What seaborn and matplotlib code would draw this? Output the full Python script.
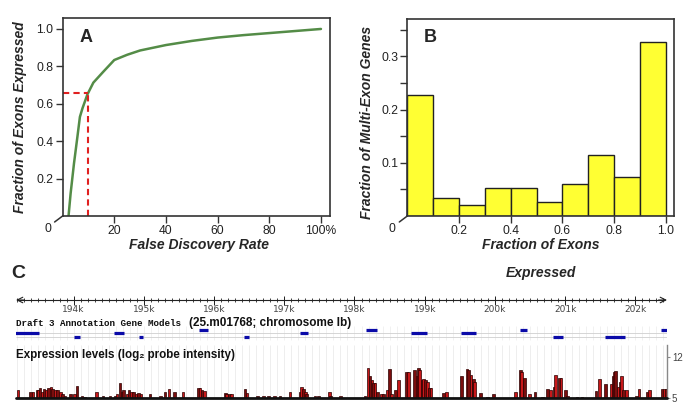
import numpy as np
import matplotlib
matplotlib.use("Agg")
import matplotlib.pyplot as plt
import seaborn as sns

# ---------------- data ----------------
# Panel A: cumulative fraction of exons expressed vs FDR (%)
fdr = [2.3, 3.1, 4.4, 5.7, 6.7, 7.7, 9.6, 11.9, 15.8, 20, 25, 30, 40, 50, 60, 70, 80, 90, 100]
frac_expressed = [0.0, 0.12, 0.28, 0.42, 0.53, 0.576, 0.65, 0.713, 0.772, 0.834, 0.862,
                  0.885, 0.914, 0.936, 0.954, 0.967, 0.978, 0.989, 1.0]
fdr_cut = 10
frac_cut = 0.655
a_xticks = [20, 40, 60, 80, 100]
a_xticklabels = ["20", "40", "60", "80", "100%"]
a_yticks = [0.2, 0.4, 0.6, 0.8, 1.0]
a_yticklabels = ["0.2", "0.4", "0.6", "0.8", "1.0"]

# Panel B: histogram of fraction of exons expressed per multi-exon gene
bin_edges = [0.0, 0.1, 0.2, 0.3, 0.4, 0.5, 0.6, 0.7, 0.8, 0.9, 1.0]
bin_fraction = [0.227, 0.034, 0.020, 0.053, 0.053, 0.027, 0.060, 0.114, 0.074, 0.327]
b_xticks = [0.2, 0.4, 0.6, 0.8, 1.0]
b_xticklabels = ["0.2", "0.4", "0.6", "0.8", "1.0"]
b_yticks = [0.1, 0.2, 0.3]
b_yticklabels = ["0.1", "0.2", "0.3"]
b_yminor = [0.05, 0.15, 0.25, 0.35]

# Panel C: genome browser view (positions in kb)
ruler_labels = [194, 195, 196, 197, 198, 199, 200, 201, 202]
gene_start = [195.78, 198.17, 200.36, 202.36,
              193.17, 194.57, 197.22, 198.81, 199.51,
              194.01, 194.93, 196.42, 200.82, 201.57]
gene_end = [195.92, 198.32, 200.46, 202.46,
            193.51, 194.72, 197.34, 199.03, 199.73,
            194.09, 194.99, 196.50, 200.97, 201.85]
gene_row = [1, 1, 1, 1, 2, 2, 2, 2, 2, 3, 3, 3, 3, 3]

probe_pos = [193.21, 193.39, 193.42, 193.48, 193.50, 193.52, 193.56, 193.58, 193.61, 193.64,
             193.68, 193.70, 193.74, 193.77, 193.81, 193.84, 193.88, 193.96, 194.01, 194.05,
             194.12, 194.16, 194.33, 194.42, 194.52, 194.59, 194.62, 194.66, 194.69, 194.71,
             194.76, 194.79, 194.82, 194.85, 194.89, 194.92, 194.96, 195.09, 195.24, 195.30,
             195.36, 195.44, 195.56, 195.78, 195.80, 195.83, 195.86, 196.16, 196.18, 196.22,
             196.25, 196.44, 196.47, 196.62, 196.70, 196.78, 196.86, 196.94, 197.08, 197.23,
             197.25, 197.27, 197.30, 197.32, 197.44, 197.49, 197.64, 197.66, 197.80, 198.15,
             198.19, 198.22, 198.25, 198.27, 198.29, 198.33, 198.38, 198.41, 198.47, 198.50,
             198.53, 198.58, 198.63, 198.74, 198.77, 198.85, 198.89, 198.91, 198.93, 198.96,
             198.98, 199.01, 199.04, 199.07, 199.09, 199.27, 199.31, 199.52, 199.60, 199.62,
             199.66, 199.69, 199.71, 199.79, 199.89, 199.98, 200.29, 200.36, 200.38, 200.42,
             200.49, 200.57, 200.68, 200.75, 200.79, 200.84, 200.86, 200.92, 200.94, 201.00,
             201.03, 201.17, 201.24, 201.44, 201.49, 201.57, 201.66, 201.68, 201.70, 201.72,
             201.76, 201.78, 201.80, 201.83, 201.87, 202.02, 202.05, 202.17, 202.20, 202.38,
             202.41, 202.44]
probe_log2 = [6.4, 6.0, 6.1, 6.3, 6.4, 6.7, 6.1, 6.5, 6.3, 6.7,
              6.8, 6.6, 6.4, 6.4, 6.1, 5.7, 5.4, 5.6, 5.6, 7.0,
              5.4, 5.2, 6.1, 5.4, 5.3, 5.4, 5.7, 7.6, 6.1, 6.4,
              5.7, 6.4, 6.1, 6.1, 5.7, 5.8, 5.7, 5.7, 5.4, 6.1,
              6.5, 6.0, 6.1, 6.7, 6.7, 6.4, 6.2, 5.8, 5.7, 5.7,
              5.7, 6.5, 5.8, 5.3, 5.3, 5.3, 5.3, 5.4, 6.0, 6.1,
              6.8, 6.6, 6.0, 5.7, 5.3, 5.3, 6.1, 5.4, 5.4, 5.4,
              10.1, 8.75, 8.1, 7.5, 7.5, 6.0, 5.7, 5.7, 6.3, 9.9,
              5.7, 6.4, 8.0, 9.5, 9.5, 9.8, 8.8, 10.2, 9.8, 8.1,
              8.2, 8.1, 7.8, 6.7, 6.7, 5.8, 6.0, 8.75, 10.0, 9.8,
              8.9, 8.2, 7.8, 5.8, 5.2, 5.7, 6.0, 9.8, 9.5, 8.5,
              5.7, 6.0, 5.2, 6.6, 6.4, 6.8, 8.9, 8.4, 8.4, 6.3,
              5.4, 5.2, 5.2, 6.2, 8.2, 7.4, 7.4, 8.8, 9.5, 9.6,
              6.8, 7.8, 8.75, 6.4, 6.4, 5.4, 6.6, 6.0, 6.3, 6.6,
              6.6, 6.5]
expr_ticks = [5, 12]

# ---------------- style ----------------
sns.set_style("white")
SANS = ["Liberation Sans", "DejaVu Sans"]
plt.rcParams["font.family"] = SANS

W, H = 685, 415
fig = plt.figure(figsize=(W / 100, H / 100), dpi=100)


def px_axes(x0, y0, x1, y1):
    return fig.add_axes([x0 / W, 1 - y1 / H, (x1 - x0) / W, (y1 - y0) / H])


def ftext(x, y, s, **kw):
    fig.text(x / W, 1 - y / H, s, **kw)


SPINE = "#333333"
TICKFS = 8.7


def style_box(ax):
    for sp in ax.spines.values():
        sp.set_visible(True)
        sp.set_color(SPINE)
        sp.set_linewidth(1.2)
    ax.tick_params(axis="both", which="both", direction="out", length=5, width=1.0,
                   color=SPINE, labelsize=TICKFS, labelcolor="#222222", pad=1.5,
                   bottom=True, left=True)
    ax.annotate("", xy=(0, 0), xycoords="axes fraction", xytext=(-8, -6),
                textcoords="offset pixels", annotation_clip=False,
                arrowprops=dict(arrowstyle="-", color=SPINE, lw=1.1, shrinkA=0, shrinkB=0))
    ax.annotate("0", xy=(0, 0), xycoords="axes fraction", xytext=(-15, -13),
                textcoords="offset pixels", ha="center", va="center",
                fontsize=TICKFS, color="#222222", annotation_clip=False)


# ---------------- Panel A ----------------
axA = px_axes(62.6, 18.3, 330, 216)
sns.lineplot(x=fdr, y=frac_expressed, color="#548c47", lw=1.8, ax=axA)
axA.hlines(frac_cut, 0, fdr_cut, colors="#e02020", linestyles=(0, (3, 2)), lw=1.5)
axA.vlines(fdr_cut, 0, frac_cut, colors="#e02020", linestyles=(0, (3, 2)), lw=1.5)
axA.set_xlim(0, 103.5)
axA.set_ylim(0, 1.057)
axA.set_xticks(a_xticks)
axA.set_xticklabels(a_xticklabels)
axA.set_yticks(a_yticks)
axA.set_yticklabels(a_yticklabels)
axA.set_xlabel("")
axA.set_ylabel("")
style_box(axA)
ftext(86, 38, "A", fontsize=13, fontweight="bold", ha="center", va="center")
ftext(20, 117, "Fraction of Exons Expressed", rotation=90, fontsize=10,
      fontweight="bold", fontstyle="italic", ha="center", va="center")
ftext(199, 245, "False Discovery Rate", fontsize=10, fontweight="bold",
      fontstyle="italic", ha="center", va="center")

# ---------------- Panel B ----------------
axB = px_axes(407.3, 19, 674.3, 216)
centers = [(bin_edges[i] + bin_edges[i + 1]) / 2 for i in range(len(bin_fraction))]
sns.histplot(x=centers, weights=bin_fraction, bins=bin_edges, color="#ffff33",
             edgecolor="#222222", linewidth=1.0, alpha=1, ax=axB)
axB.set_xlim(0, 1.033)
axB.set_ylim(0, 0.37)
axB.set_xticks(b_xticks)
axB.set_xticklabels(b_xticklabels)
axB.set_yticks(b_yticks)
axB.set_yticklabels(b_yticklabels)
axB.set_yticks(b_yminor, minor=True)
axB.set_xlabel("")
axB.set_ylabel("")
style_box(axB)
ftext(430, 37, "B", fontsize=13, fontweight="bold", ha="center", va="center")
ftext(367, 122, "Fraction of Multi-Exon Genes", rotation=90, fontsize=10,
      fontweight="bold", fontstyle="italic", ha="center", va="center")
ftext(541, 245, "Fraction of Exons", fontsize=10, fontweight="bold",
      fontstyle="italic", ha="center", va="center")
ftext(541, 272.5, "Expressed", fontsize=10, fontweight="bold",
      fontstyle="italic", ha="center", va="center")

# ---------------- Panel C ----------------
kb_lo, kb_hi = 193.18, 202.45
grid_x = np.arange(193.2, 202.41, 0.1)

axR = px_axes(16, 290, 667, 342)
axR.set_xlim(kb_lo, kb_hi)
axR.set_ylim(342, 290)
axR.axis("off")
axR.vlines(grid_x, 326, 340, colors="#ececec", lw=0.5, zorder=0)
axR.hlines(300, kb_lo + 0.03, kb_hi - 0.03, colors="#222222", lw=0.8)
axR.annotate("", xy=(kb_hi, 300), xytext=(kb_hi - 0.12, 300), annotation_clip=False,
             arrowprops=dict(arrowstyle="->", lw=0.8, color="#222222", shrinkA=0, shrinkB=0))
axR.annotate("", xy=(kb_lo, 300), xytext=(kb_lo + 0.12, 300), annotation_clip=False,
             arrowprops=dict(arrowstyle="->", lw=0.8, color="#222222", shrinkA=0, shrinkB=0))
axR.vlines(grid_x, 297.8, 302.3, colors="#222222", lw=0.6)
axR.vlines(ruler_labels, 296.5, 305, colors="#222222", lw=0.7)
for k in ruler_labels:
    axR.text(k, 309.5, f"{k}k", fontsize=6.5, color="#444444", ha="center", va="center",
             family=["DejaVu Sans"])
row_y = {1: 329.6, 2: 333.3, 3: 337.0}
axR.hlines([row_y[2], row_y[3]], kb_lo, kb_hi, colors="#cfcfcf", lw=0.6, zorder=1)
axR.hlines([row_y[r] for r in gene_row], gene_start, gene_end, colors="#0a0aa8",
           lw=2.3, zorder=2)
ftext(16, 323, "Draft 3 Annotation Gene Models", family=["Liberation Mono", "DejaVu Sans Mono"],
      fontweight="bold", fontsize=6.7, ha="left", va="center", color="#111111")
ftext(189, 322.5, "(25.m01768; chromosome Ib)", fontsize=8.5, fontweight="bold",
      ha="left", va="center", color="#111111")
ftext(16, 355, "Expression levels (log\u2082 probe intensity)", fontsize=8.4,
      fontweight="bold", ha="left", va="center", color="#111111")

axE = px_axes(16, 345, 667, 398)
axE.set_xlim(kb_lo, kb_hi)
axE.set_ylim(5, 14.05)
axE.vlines(grid_x, 5, 14.05, colors="#e8e8e8", lw=0.5, zorder=0)
heights = [v - 5 for v in probe_log2]
bar_colors = ["#c8181a" if i % 2 == 0 else "#7a0e0e" for i in range(len(probe_pos))]
axE.bar(probe_pos, heights, bottom=5, width=0.038, color=bar_colors,
        edgecolor="#2a0000", linewidth=0.5, zorder=2)
axE.axhline(5, color="#111111", lw=2, clip_on=False, zorder=3)
for sp in ["top", "left", "bottom"]:
    axE.spines[sp].set_visible(False)
axE.spines["right"].set_visible(True)
axE.spines["right"].set_color("#888888")
axE.spines["right"].set_linewidth(1.0)
axE.set_xticks([])
axE.yaxis.tick_right()
axE.set_yticks(expr_ticks)
axE.set_yticklabels([str(t) for t in expr_ticks])
axE.tick_params(axis="y", right=True, left=False, direction="out", length=2.5,
                width=0.8, color="#888888", labelsize=7, labelcolor="#444444", pad=1)
ftext(18, 273, "C", fontsize=14, fontweight="bold", ha="center", va="center")

fig.savefig("out.png", dpi=100)
